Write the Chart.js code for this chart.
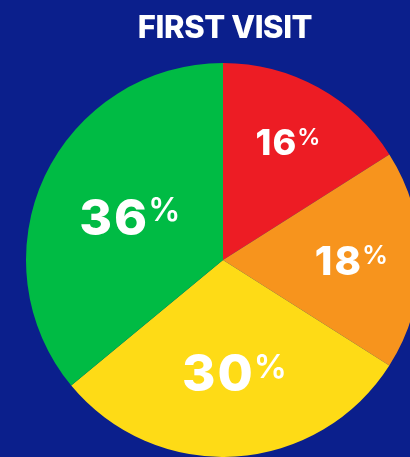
<!DOCTYPE html>
<html>
<head>
<meta charset="utf-8">
<script src="https://cdn.jsdelivr.net/npm/chart.js@4"></script>
<style>
  html,body{margin:0;padding:0;background:#0b1f8c;overflow:hidden;width:410px;height:457px}
  #wrap{position:absolute;left:0;top:0;width:410px;height:457px;overflow:hidden}
  canvas{position:absolute;left:0;top:0}
</style>
</head>
<body>
<div id="wrap"><canvas id="pie" width="430" height="457"></canvas></div>
<script>
// data
const title = 'FIRST VISIT';
const labels = ['Red', 'Orange', 'Yellow', 'Green'];
const values = [16, 18, 30, 36];
const colors = ['#ed1c24', '#f7941d', '#fedb16', '#00bb44'];

// label styles per slice: number font px, distance from centre as fraction of radius
const labelSize = [36, 40, 51, 50];
const labelDist = [0.685, 0.655, 0.57, 0.52];

const FONT = 'Inter, "Open Sans", sans-serif';

function spacing(ctx, v){ if('letterSpacing' in ctx) ctx.letterSpacing = v; }

const pieLabels = {
  id:'pieLabels',
  afterDraw(chart){
    const ctx = chart.ctx;
    // title
    ctx.save();
    ctx.fillStyle = '#fff';
    ctx.font = '800 31px ' + FONT;
    ctx.textAlign = 'center'; ctx.textBaseline = 'alphabetic';
    spacing(ctx, '-0.4px');
    ctx.fillText(title, 225, 38);
    // slice labels
    const meta = chart.getDatasetMeta(0);
    meta.data.forEach((arc, i)=>{
      const mid = (arc.startAngle + arc.endAngle)/2;
      const r = arc.outerRadius * labelDist[i];
      const cx = arc.x + Math.cos(mid)*r + (i===2?5:0), cy = arc.y + Math.sin(mid)*r;
      const n = labelSize[i], p = Math.round(n*0.64);
      const num = String(values[i]);
      const ls = Math.round(n*0.04);
      spacing(ctx, ls + 'px');
      ctx.font = '800 ' + n + 'px ' + FONT; const wn = ctx.measureText(num).width;
      spacing(ctx, '0px');
      ctx.font = '600 ' + p + 'px ' + FONT; const wp = ctx.measureText('%').width;
      const x0 = cx - (wn + wp)/2;
      const capN = n*0.727, capP = p*0.727;
      const base = cy + capN/2;
      ctx.textAlign = 'left';
      spacing(ctx, ls + 'px');
      ctx.font = '800 ' + n + 'px ' + FONT; ctx.fillText(num, x0, base);
      spacing(ctx, '0px');
      ctx.font = '600 ' + p + 'px ' + FONT; ctx.fillText('%', x0 + wn - ls + 1, base - (capN - capP));
    });
    ctx.restore();
  }
};

new Chart(document.getElementById('pie'), {
  type:'pie',
  data:{ labels, datasets:[{ data:values, backgroundColor:colors, borderWidth:0 }] },
  options:{
    responsive:false, animation:false,
    layout:{ padding:{ left:26, right:10, top:63, bottom:0 } },
    plugins:{ legend:{display:false}, tooltip:{enabled:false} }
  },
  plugins:[pieLabels]
});
</script>
</body>
</html>
